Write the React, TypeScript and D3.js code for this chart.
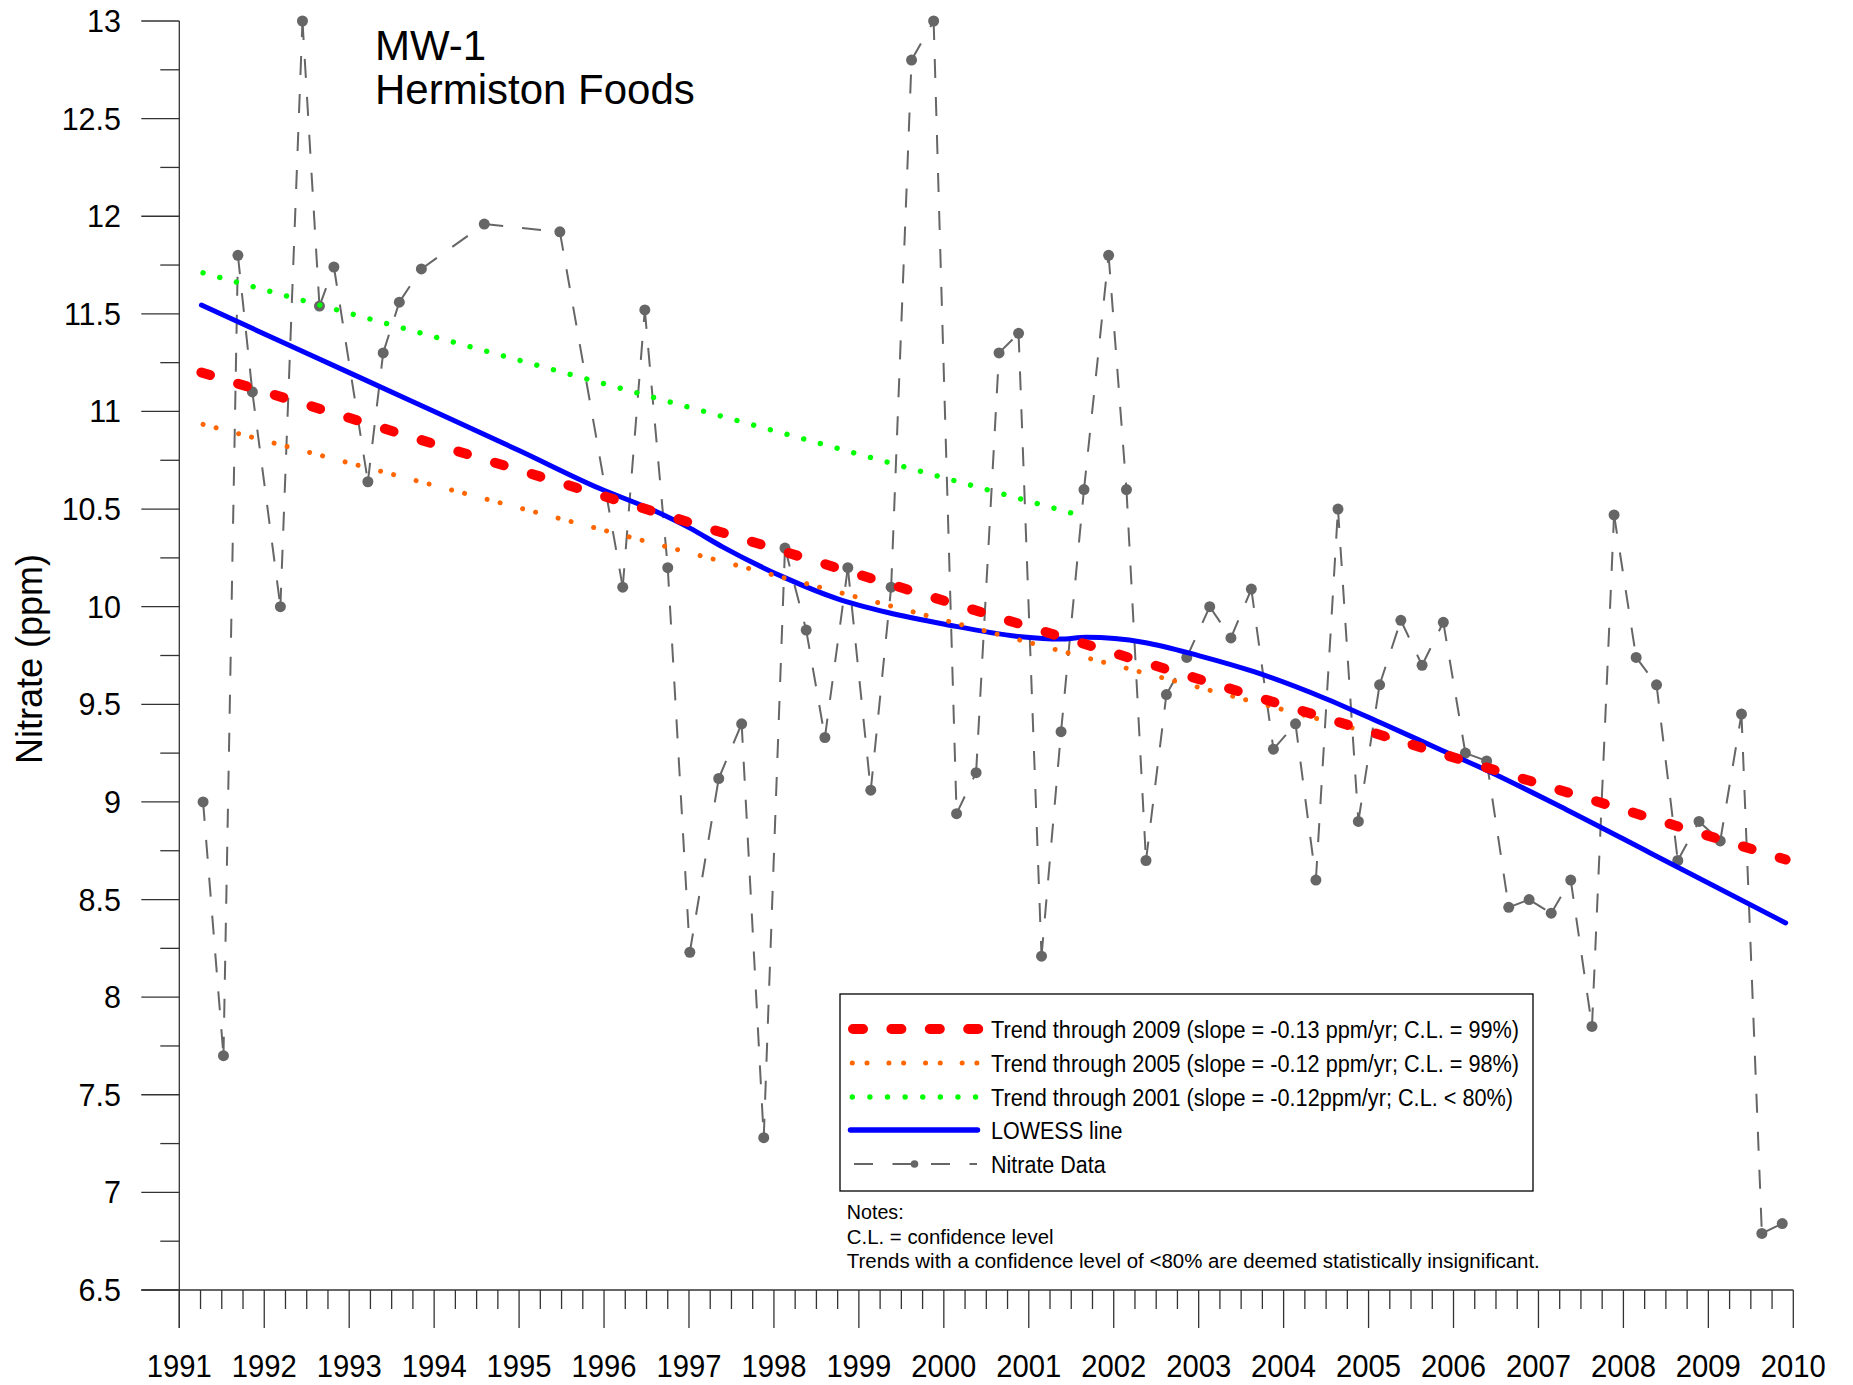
import React from 'react';
import * as d3 from 'd3';

// ---------- Data ----------
const sampleYears = [
  1991.28, 1991.52, 1991.69, 1991.86, 1992.19, 1992.45, 1992.65, 1992.82,
  1993.22, 1993.40, 1993.59, 1993.85, 1994.59, 1995.48, 1996.22, 1996.48,
  1996.75, 1997.01, 1997.35, 1997.62, 1997.88, 1998.13, 1998.38, 1998.60,
  1998.87, 1999.14, 1999.38, 1999.62, 1999.88, 2000.15, 2000.38, 2000.65,
  2000.88, 2001.15, 2001.38, 2001.65, 2001.94, 2002.15, 2002.38, 2002.62,
  2002.86, 2003.13, 2003.38, 2003.62, 2003.88, 2004.14, 2004.38, 2004.64,
  2004.88, 2005.13, 2005.38, 2005.63, 2005.88, 2006.14, 2006.39, 2006.65,
  2006.89, 2007.15, 2007.38, 2007.63, 2007.89, 2008.15, 2008.39, 2008.64,
  2008.89, 2009.14, 2009.39, 2009.63, 2009.87,
];
const nitrateValues = [
  9.0, 7.7, 11.8, 11.1, 10.0, 13.0, 11.54, 11.74,
  10.64, 11.3, 11.56, 11.73, 11.96, 11.92, 10.1, 11.52,
  10.2, 8.23, 9.12, 9.4, 7.28, 10.3, 9.88, 9.33,
  10.2, 9.06, 10.1, 12.8, 13.0, 8.94, 9.15, 11.3,
  11.4, 8.21, 9.36, 10.6, 11.8, 10.6, 8.7, 9.55,
  9.74, 10.0, 9.84, 10.09, 9.27, 9.4, 8.6, 10.5,
  8.9, 9.6, 9.93, 9.7, 9.92, 9.25, 9.21, 8.46,
  8.5, 8.43, 8.6, 7.85, 10.47, 9.74, 9.6, 8.7,
  8.9, 8.8, 9.45, 6.79, 6.84,
];

const lowessYears = [
  1991.26, 1992.5, 1993.75, 1995.0, 1995.95, 1996.6, 1997.0, 1997.4, 1998.12,
  1998.75, 1999.34, 2000.01, 2000.91, 2001.36, 2001.68, 2002.36, 2003.02,
  2003.65, 2004.49, 2005.17, 2005.86, 2006.35, 2007.33, 2008.31, 2009.91,
];
const lowessValues = [
  11.545, 11.298, 11.05, 10.80, 10.605, 10.49, 10.405, 10.305, 10.15,
  10.04, 9.97, 9.91, 9.846, 9.834, 9.843, 9.817, 9.747,
  9.667, 9.53, 9.40, 9.265, 9.17, 8.96, 8.74, 8.38,
];

const trendNames = [
  'Trend through 2009 (slope = -0.13 ppm/yr; C.L. = 99%)',
  'Trend through 2005 (slope = -0.12 ppm/yr; C.L. = 98%)',
  'Trend through 2001 (slope = -0.12ppm/yr; C.L. < 80%)',
];
const trendStartYears = [1991.26, 1991.28, 1991.28];
const trendEndYears = [2009.91, 2005.87, 2001.5];
const trendStartValues = [11.2, 10.934, 11.71];
const trendEndValues = [8.705, 9.257, 10.48];

const lowessLabel = 'LOWESS line';
const dataLabel = 'Nitrate Data';

const xTickYears = [
  1991, 1992, 1993, 1994, 1995, 1996, 1997, 1998, 1999, 2000,
  2001, 2002, 2003, 2004, 2005, 2006, 2007, 2008, 2009, 2010,
];
const yTickValues = [6.5, 7, 7.5, 8, 8.5, 9, 9.5, 10, 10.5, 11, 11.5, 12, 12.5, 13];
const titleLines = ['MW-1', 'Hermiston Foods'];
const yAxisTitle = 'Nitrate (ppm)';
const noteLines = [
  'Notes:',
  'C.L. = confidence level',
  'Trends with a confidence level of <80% are deemed statistically insignificant.',
];

// ---------- Styles ----------
const W = 1853;
const H = 1385;
const FONT = "'Liberation Sans', Arial, Helvetica, sans-serif";
const AXIS = '#333333';
const GRAY = '#666666';
const BLUE = '#0000ff';
const trendStyles = [
  { color: '#ff0000', width: 10, dash: '9 29.4', legendDash: '10 28.4' },
  { color: '#ff6600', width: 5, dash: '0.01 13.4 0.01 23.3', legendDash: '0.01 14.7 0.01 21.9' },
  { color: '#00ff00', width: 5.4, dash: '0.01 17.3', legendDash: '0.01 17.6' },
];
const trendTextLengths = [528, 528, 522];
const drawOrder = [2, 1, 0];
const noteBaselines = [1219, 1244, 1267.5];
const noteLengths = [56.8, 206.7, 693];

export default function App() {
  const x = d3.scaleLinear().domain([1991, 2010]).range([179.3, 1793.3]);
  const y = d3.scaleLinear().domain([6.5, 13]).range([1290, 21]);

  const xMinor = d3.range(1991, 2010, 0.25).filter((v) => Math.abs(v - Math.round(v)) > 0.01);
  const yMinor = d3.range(6.75, 13, 0.5);

  const lowessLine = d3
    .line<number>()
    .x((_, i) => x(lowessYears[i]))
    .y((d) => y(d))
    .curve(d3.curveMonotoneX);

  const fmt = (v: number) => (Number.isInteger(v) ? String(v) : v.toFixed(1));

  const legendX0 = 848;
  const legendX1 = 980;
  const legendRowY = [1029, 1063, 1097, 1130, 1164];
  const legendTextX = 991;

  return (
    <svg
      width={W}
      height={H}
      viewBox={`0 0 ${W} ${H}`}
      style={{ position: 'absolute', left: 0, top: 0, display: 'block', background: '#fff' }}
      fontFamily={FONT}
    >
      <rect x={0} y={0} width={W} height={H} fill="#fff" />

      {/* Axes */}
      <g stroke={AXIS} strokeWidth={1.3} fill="none">
        <line x1={x(1991)} x2={x(1991)} y1={y(13)} y2={y(6.5) + 38} />
        <line x1={x(1991) - 38} x2={x(2010)} y1={y(6.5)} y2={y(6.5)} />
        {yTickValues.map((v) => (
          <line key={'ym' + v} x1={x(1991) - 38} x2={x(1991)} y1={y(v)} y2={y(v)} />
        ))}
        {yMinor.map((v) => (
          <line key={'yn' + v} x1={x(1991) - 19} x2={x(1991)} y1={y(v)} y2={y(v)} />
        ))}
        {xTickYears.map((v) => (
          <line key={'xm' + v} x1={x(v)} x2={x(v)} y1={y(6.5)} y2={y(6.5) + 38} />
        ))}
        {xMinor.map((v) => (
          <line key={'xn' + v} x1={x(v)} x2={x(v)} y1={y(6.5)} y2={y(6.5) + 19} />
        ))}
      </g>

      {/* Tick labels */}
      <g fontSize={30.5} fill="#000">
        {yTickValues.map((v) => (
          <text key={'yl' + v} x={121} y={y(v) + 11} textAnchor="end">
            {fmt(v)}
          </text>
        ))}
        {xTickYears.map((v) => (
          <text key={'xl' + v} x={x(v)} y={1376.7} textAnchor="middle" textLength={65} lengthAdjust="spacingAndGlyphs">
            {v}
          </text>
        ))}
      </g>

      <text
        transform="translate(41.5,659) rotate(-90)"
        textAnchor="middle"
        fontSize={36}
        fill="#000"
      >
        {yAxisTitle}
      </text>

      {/* Title */}
      <g fontSize={42} fill="#000">
        {titleLines.map((t, i) => (
          <text key={t} x={375} y={59.5 + i * 44}>
            {t}
          </text>
        ))}
      </g>

      {/* Nitrate data: dashed segments + markers */}
      <g stroke={GRAY} strokeWidth={2} strokeDasharray="19 19" fill="none">
        {sampleYears.slice(0, -1).map((yr, i) => (
          <line
            key={'seg' + i}
            x1={x(yr)}
            y1={y(nitrateValues[i])}
            x2={x(sampleYears[i + 1])}
            y2={y(nitrateValues[i + 1])}
          />
        ))}
      </g>
      <g fill={GRAY}>
        {sampleYears.map((yr, i) => (
          <circle key={'pt' + i} cx={x(yr)} cy={y(nitrateValues[i])} r={5.5} />
        ))}
      </g>

      {/* LOWESS */}
      <path
        d={lowessLine(lowessValues) || ''}
        fill="none"
        stroke={BLUE}
        strokeWidth={5}
        strokeLinecap="round"
        strokeLinejoin="round"
      />

      {/* Trend lines */}
      {drawOrder.map((k) => (
        <line
          key={'trend' + k}
          x1={x(trendStartYears[k])}
          y1={y(trendStartValues[k])}
          x2={x(trendEndYears[k])}
          y2={y(trendEndValues[k])}
          stroke={trendStyles[k].color}
          strokeWidth={trendStyles[k].width}
          strokeDasharray={trendStyles[k].dash}
          strokeLinecap="round"
        />
      ))}

      {/* Legend */}
      <rect x={840} y={994} width={693} height={197} fill="#fff" stroke="#000" strokeWidth={1.3} />
      <line
        x1={853}
        x2={980}
        y1={legendRowY[0]}
        y2={legendRowY[0]}
        stroke={trendStyles[0].color}
        strokeWidth={10}
        strokeDasharray={trendStyles[0].legendDash}
        strokeLinecap="round"
      />
      <line
        x1={852.3}
        x2={979}
        y1={legendRowY[1]}
        y2={legendRowY[1]}
        stroke={trendStyles[1].color}
        strokeWidth={5}
        strokeDasharray={trendStyles[1].legendDash}
        strokeLinecap="round"
      />
      <line
        x1={852.3}
        x2={977}
        y1={legendRowY[2]}
        y2={legendRowY[2]}
        stroke={trendStyles[2].color}
        strokeWidth={5.4}
        strokeDasharray={trendStyles[2].legendDash}
        strokeLinecap="round"
      />
      <line
        x1={legendX0 + 2.5}
        x2={legendX1 - 2.5}
        y1={legendRowY[3]}
        y2={legendRowY[3]}
        stroke={BLUE}
        strokeWidth={5.5}
        strokeLinecap="round"
      />
      <line
        x1={854}
        x2={977}
        y1={legendRowY[4]}
        y2={legendRowY[4]}
        stroke={GRAY}
        strokeWidth={2}
        strokeDasharray="19 19.5"
      />
      <circle cx={914.5} cy={legendRowY[4]} r={3.8} fill={GRAY} />

      <g fontSize={23.5} fill="#000">
        {trendNames.map((t, i) => (
          <text
            key={t}
            x={legendTextX}
            y={legendRowY[i] + 8.5}
            textLength={trendTextLengths[i]}
            lengthAdjust="spacingAndGlyphs"
          >
            {t}
          </text>
        ))}
        <text x={legendTextX} y={legendRowY[3] + 8.5} textLength={131.5} lengthAdjust="spacingAndGlyphs">
          {lowessLabel}
        </text>
        <text x={legendTextX} y={legendRowY[4] + 8.5} textLength={114.7} lengthAdjust="spacingAndGlyphs">
          {dataLabel}
        </text>
      </g>

      {/* Notes */}
      <g fontSize={20.5} fill="#000">
        {noteLines.map((t, i) => (
          <text
            key={t}
            x={846.8}
            y={noteBaselines[i]}
            textLength={noteLengths[i]}
            lengthAdjust="spacingAndGlyphs"
          >
            {t}
          </text>
        ))}
      </g>
    </svg>
  );
}
